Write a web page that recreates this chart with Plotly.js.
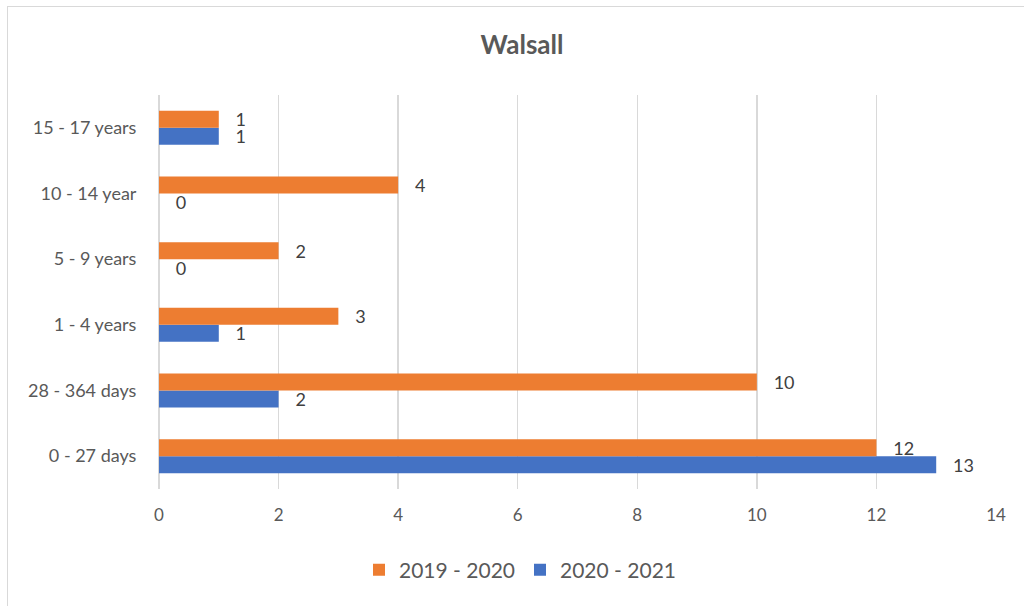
<!DOCTYPE html>
<html>
<head>
<meta charset="utf-8">
<script src="https://cdn.plot.ly/plotly-3.0.1.min.js"></script>
<style>
html,body{margin:0;padding:0;background:#fff;}
#wrap{position:relative;width:1024px;height:606px;overflow:hidden;}
#chart{width:1024px;height:606px;}
#frame{position:absolute;left:7px;top:6px;width:1100px;height:700px;border:1.5px solid #d9d9d9;pointer-events:none;}
</style>
</head>
<body>
<div id="wrap">
<div id="chart"></div>
<div id="frame"></div>
</div>
<script>
const categories = ["0 - 27 days", "28 - 364 days", "1 - 4 years", "5 - 9 years", "10 - 14 year", "15 - 17 years"];
const seriesNames = ["2019 - 2020", "2020 - 2021"];
const values2019 = [12, 10, 3, 2, 4, 1];
const values2020 = [13, 2, 1, 0, 0, 1];
const xTicks = [0, 2, 4, 6, 8, 10, 12, 14];

const FONT = "Lato, 'Liberation Sans', sans-serif";
const PAD = "\u00a0\u00a0\u00a0";

const traces = [
  {
    type: "bar", orientation: "h", name: seriesNames[1],
    y: categories, x: values2020,
    marker: {color: "#4472c4"},
    text: values2020.map(v => PAD + v), textposition: "outside",
    constraintext: "none",
    textfont: {family: FONT, size: 18, color: "#404040"},
    cliponaxis: false, hoverinfo: "x+y"
  },
  {
    type: "bar", orientation: "h", name: seriesNames[0],
    y: categories, x: values2019,
    marker: {color: "#ed7d31"},
    text: values2019.map(v => PAD + v), textposition: "outside",
    constraintext: "none",
    textfont: {family: FONT, size: 18, color: "#404040"},
    cliponaxis: false, hoverinfo: "x+y"
  }
];

const layout = {
  width: 1024, height: 606,
  margin: {l: 159, r: 28, t: 95, b: 117},
  paper_bgcolor: "#fff", plot_bgcolor: "#fff",
  font: {family: FONT, size: 18, color: "#595959"},
  title: {
    text: "<b>Walsall</b>", x: 522/1024, xref: "container", xanchor: "center",
    y: 1 - 45/606, yref: "container", yanchor: "middle",
    font: {family: FONT, size: 26, color: "#595959"}
  },
  barmode: "group", bargap: 0.483, bargroupgap: 0,
  xaxis: {
    range: [0, 14], tickvals: xTicks, ticktext: xTicks.map(String),
    showgrid: true, gridcolor: "#d9d9d9", gridwidth: 1.3,
    zeroline: true, zerolinecolor: "#d9d9d9", zerolinewidth: 1.3,
    showline: false, ticks: "outside", ticklen: 11, tickcolor: "rgba(0,0,0,0)",
    tickfont: {family: FONT, size: 17, color: "#595959"}, fixedrange: true
  },
  yaxis: {
    type: "category", categoryorder: "array", categoryarray: categories,
    showgrid: false, zeroline: false, showline: false,
    ticks: "outside", ticklen: 18, tickcolor: "rgba(0,0,0,0)",
    tickfont: {family: FONT, size: 18, color: "#595959"}, fixedrange: true
  },
  showlegend: true,
  legend: {
    orientation: "h", x: 520/1024, xref: "container", xanchor: "center",
    y: 1 - 570/606, yref: "container", yanchor: "middle",
    traceorder: "reversed",
    font: {family: FONT, size: 21, color: "#595959"},
    itemwidth: 30
  }
};

Plotly.newPlot("chart", traces, layout, {displayModeBar: false, staticPlot: true});
</script>
</body>
</html>
